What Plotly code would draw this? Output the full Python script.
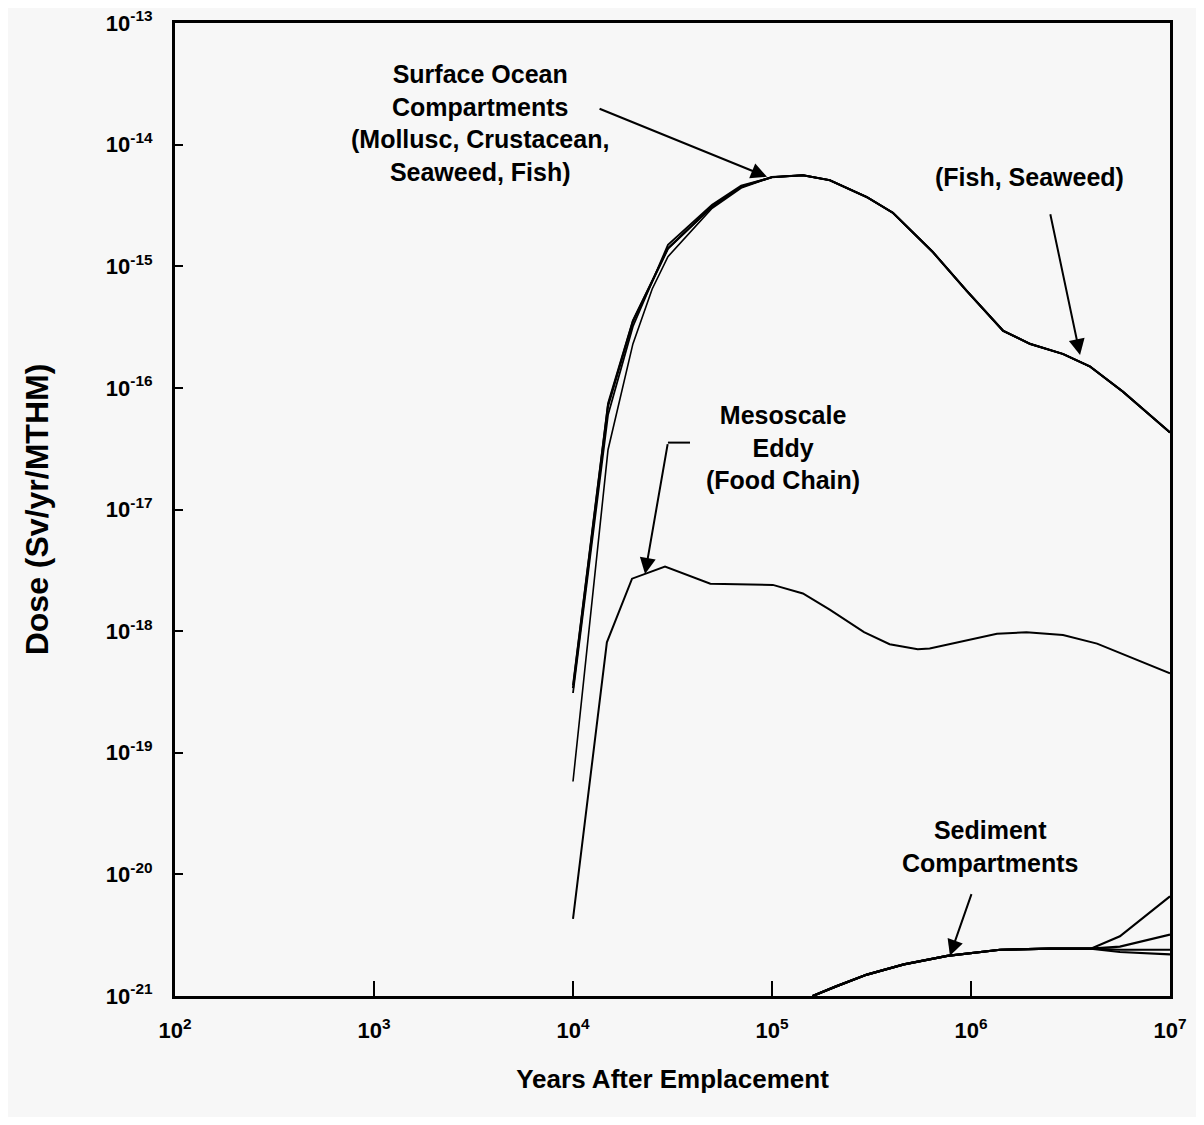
import math
import plotly.graph_objects as go

# ---------------- data ----------------
x_ticks = [1e2, 1e3, 1e4, 1e5, 1e6, 1e7]
x_tick_text = ["10<sup>2</sup>", "10<sup>3</sup>", "10<sup>4</sup>", "10<sup>5</sup>", "10<sup>6</sup>", "10<sup>7</sup>"]
y_ticks = [1e-21, 1e-20, 1e-19, 1e-18, 1e-17, 1e-16, 1e-15, 1e-14, 1e-13]
y_tick_text = ["10<sup>-21</sup>", "10<sup>-20</sup>", "10<sup>-19</sup>", "10<sup>-18</sup>", "10<sup>-17</sup>",
               "10<sup>-16</sup>", "10<sup>-15</sup>", "10<sup>-14</sup>", "10<sup>-13</sup>"]

# Surface ocean compartments: common tail after the peak
surface_tail_years = [1.43e5, 1.95e5, 3.0e5, 4.05e5, 6.4e5, 9.5e5, 1.45e6, 1.98e6, 2.9e6, 3.96e6, 5.8e6, 1.0e7]
surface_tail_dose = [5.6e-15, 5.1e-15, 3.7e-15, 2.75e-15, 1.32e-15, 6.3e-16, 2.95e-16, 2.3e-16, 1.9e-16, 1.5e-16, 9.3e-17, 4.3e-17]

rise_years = [1.0e4, 1.5e4, 2.0e4, 3.0e4, 5.0e4, 7.0e4, 1.0e5]
mollusc_rise = [3.4e-19, 7.1e-17, 3.5e-16, 1.4e-15, 3.1e-15, 4.5e-15, 5.4e-15]
crustacean_rise = [3.1e-19, 6.0e-17, 3.2e-16, 1.5e-15, 3.2e-15, 4.6e-15, 5.4e-15]
fish_rise = [3.6e-19, 7.5e-17, 3.6e-16, 1.4e-15, 3.1e-15, 4.5e-15, 5.4e-15]
seaweed_rise_years = [1.0e4, 1.5e4, 2.0e4, 2.5e4, 3.0e4, 5.0e4, 7.0e4, 1.0e5]
seaweed_rise = [5.8e-20, 3.1e-17, 2.3e-16, 6.5e-16, 1.2e-15, 3.0e-15, 4.4e-15, 5.4e-15]

# Mesoscale eddy (food chain)
eddy_years = [1.0e4, 1.48e4, 1.98e4, 2.9e4, 4.9e4, 1.01e5, 1.43e5, 1.95e5, 2.9e5, 3.9e5, 5.4e5, 6.2e5,
              1.35e6, 1.9e6, 2.9e6, 4.3e6, 1.0e7]
eddy_dose = [4.3e-21, 8.1e-19, 2.7e-18, 3.4e-18, 2.45e-18, 2.4e-18, 2.04e-18, 1.5e-18, 9.8e-19, 7.8e-19,
             7.1e-19, 7.2e-19, 9.5e-19, 9.8e-19, 9.3e-19, 7.9e-19, 4.5e-19]

# Sediment compartments
sed_years = [1.6e5, 2.1e5, 3.0e5, 4.6e5, 7.6e5, 1.4e6, 2.5e6, 4.0e6, 5.6e6, 1.0e7]
sed_base = [1.0e-21, 1.2e-21, 1.5e-21, 1.82e-21, 2.14e-21, 2.4e-21, 2.45e-21, 2.45e-21]
sed_a_end = [3.1e-21, 6.6e-21]
sed_b_end = [2.55e-21, 3.2e-21]
sed_c_end = [2.4e-21, 2.4e-21]
sed_d_end = [2.3e-21, 2.2e-21]

# ---------------- figure ----------------
BG = "#f7f7f7"
FONT = "Liberation Sans, Arial, Helvetica, sans-serif"

fig = go.Figure()

def add_line(x, y, width=2.0):
    fig.add_trace(go.Scatter(x=x, y=y, mode="lines", line=dict(color="black", width=width),
                             showlegend=False, hoverinfo="skip"))

add_line(rise_years + surface_tail_years, mollusc_rise + surface_tail_dose, 2.2)
add_line(rise_years + surface_tail_years, crustacean_rise + surface_tail_dose, 1.8)
add_line(seaweed_rise_years + surface_tail_years, seaweed_rise + surface_tail_dose, 1.6)
add_line(rise_years + surface_tail_years, fish_rise + surface_tail_dose, 1.8)
add_line(eddy_years, eddy_dose, 2.0)
for end in (sed_a_end, sed_b_end, sed_c_end, sed_d_end):
    add_line(sed_years, sed_base + end, 2.2)

bold = dict(family=FONT, size=25, color="black", weight="bold")

texts = [
    ("Surface Ocean<br>Compartments<br>(Mollusc, Crustacean,<br>Seaweed, Fish)", 3.533, -13.82),
    ("(Fish, Seaweed)", 6.296, -14.27),
    ("Mesoscale<br>Eddy<br>(Food Chain)", 5.055, -16.49),
    ("Sediment<br>Compartments", 6.095, -19.77),
]
for t, xx, yy in texts:
    fig.add_annotation(x=xx, y=yy, xref="x", yref="y", text=t, showarrow=False,
                       font=bold, align="center")

arrows = [
    # (tail x, tail y, head x, head y) in log10 units
    (4.126, -13.70, 4.975, -14.265),
    (6.397, -14.56, 6.548, -15.73),
    (4.477, -16.45, 4.362, -17.53),
    (6.005, -20.15, 5.894, -20.67),
]
for ax_, ay_, hx, hy in arrows:
    fig.add_annotation(x=hx, y=hy, ax=ax_, ay=ay_, xref="x", yref="y", axref="x", ayref="y",
                       text="", showarrow=True, arrowhead=2, arrowsize=1.6, arrowwidth=2,
                       arrowcolor="black", standoff=0)

# elbow of the mesoscale arrow (shapes on log axes use data values)
fig.add_shape(type="line", xref="x", yref="y", x0=10 ** 4.477, y0=10 ** -16.45,
              x1=10 ** 4.588, y1=10 ** -16.45, line=dict(color="black", width=2))

fig.update_xaxes(type="log", range=[2, 7], tickvals=x_ticks, ticktext=x_tick_text,
                 ticks="inside", ticklen=15, tickwidth=2, tickcolor="black",
                 showline=True, linewidth=3, linecolor="black", mirror=True,
                 showgrid=False, zeroline=False, ticklabelstandoff=13,
                 ticklabeloverflow="allow",
                 tickfont=dict(family=FONT, size=22, color="black", weight="bold"),
                 title=dict(text="Years After Emplacement", standoff=28,
                            font=dict(family=FONT, size=26, color="black", weight="bold")))
fig.update_yaxes(type="log", range=[-21, -13], tickvals=y_ticks, ticktext=y_tick_text,
                 ticks="inside", ticklen=8, tickwidth=2, tickcolor="black",
                 showline=True, linewidth=3, linecolor="black", mirror=True,
                 showgrid=False, zeroline=False, ticklabelstandoff=15,
                 ticklabeloverflow="allow",
                 tickfont=dict(family=FONT, size=22, color="black", weight="bold"),
                 title=dict(text="Dose (Sv/yr/MTHM)", standoff=48,
                            font=dict(family=FONT, size=32, color="black", weight="bold")))

fig.update_layout(width=1188, height=1109, paper_bgcolor=BG, plot_bgcolor=BG,
                  margin=dict(l=167, r=26, t=15, b=121, autoexpand=False),
                  showlegend=False)

fig.write_html("out.html")
